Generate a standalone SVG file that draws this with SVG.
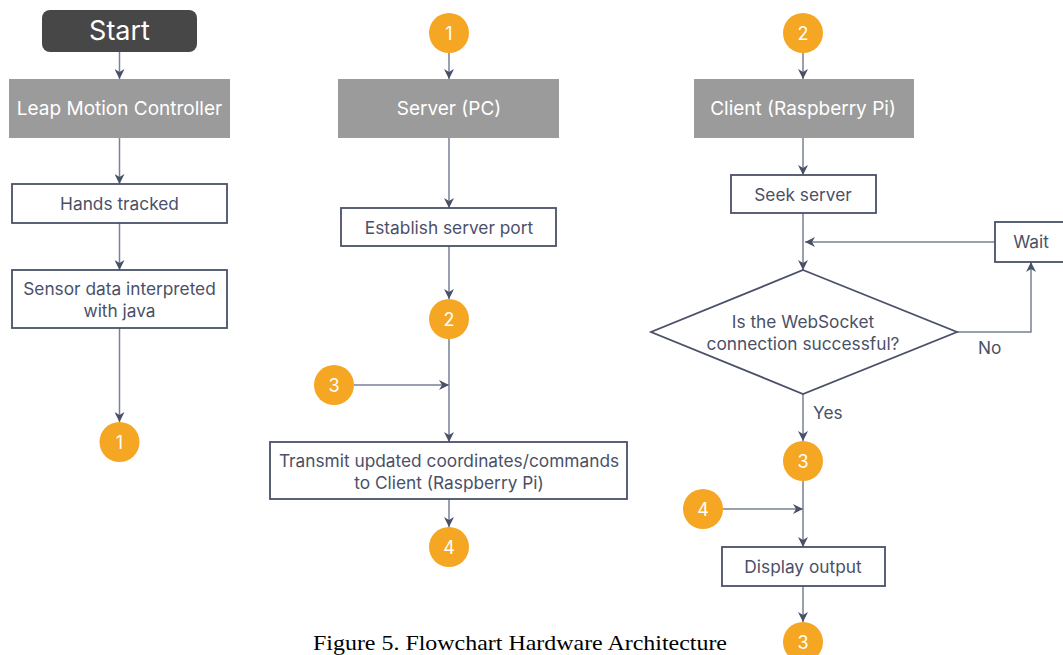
<svg xmlns="http://www.w3.org/2000/svg" width="1063" height="655" viewBox="0 0 1063 655">
<defs>
<marker id="ah" viewBox="0 0 10 10" refX="10" refY="5" markerWidth="10" markerHeight="10" markerUnits="userSpaceOnUse" orient="auto">
<path d="M0,0 L10,5 L0,10 L3,5 Z" fill="#4a5068"/>
</marker>
<style>
.t{font-family:Inter,"Liberation Sans",sans-serif;font-size:17.3px;fill:#4a5068;text-anchor:middle}
.w{font-family:Inter,"Liberation Sans",sans-serif;font-size:19px;fill:#ffffff;text-anchor:middle}
.box{fill:#ffffff;stroke:#4a5068;stroke-width:1.8}
.gray{fill:#9b9b9b}
.c{fill:#f5a623}
.cn{font-family:Inter,"Liberation Sans",sans-serif;font-size:18px;fill:#ffffff;text-anchor:middle}
.la{fill:none;stroke:#7a8096;stroke-width:1.5;marker-end:url(#ah)}
</style>
</defs>
<rect width="1063" height="655" fill="#ffffff"/>

<g id="connectors">
<line class="la" x1="119.5" y1="52" x2="119.5" y2="79"/>
<line class="la" x1="119.5" y1="138" x2="119.5" y2="184"/>
<line class="la" x1="119.5" y1="223" x2="119.5" y2="270"/>
<line class="la" x1="119.5" y1="328" x2="119.5" y2="422"/>

<line class="la" x1="449" y1="53" x2="449" y2="79"/>
<line class="la" x1="449" y1="138" x2="449" y2="208"/>
<line class="la" x1="449" y1="246" x2="449" y2="299"/>
<line class="la" x1="449" y1="339" x2="449" y2="442"/>
<line class="la" x1="354" y1="385" x2="449" y2="385"/>
<line class="la" x1="449" y1="499" x2="449" y2="527"/>

<line class="la" x1="803" y1="53" x2="803" y2="79"/>
<line class="la" x1="803" y1="138" x2="803" y2="175"/>
<line class="la" x1="803" y1="213" x2="803" y2="270"/>
<line class="la" x1="995" y1="242" x2="805" y2="242"/>
<polyline class="la" points="957,332 1031,332 1031,262"/>
<line class="la" x1="803" y1="394" x2="803" y2="441"/>
<line class="la" x1="803" y1="481" x2="803" y2="547"/>
<line class="la" x1="723" y1="509" x2="803" y2="509"/>
<line class="la" x1="803" y1="586" x2="803" y2="622"/>
<text class="t" x="978" y="354" style="text-anchor:start">No</text>
<text class="t" x="813" y="419" style="text-anchor:start">Yes</text>
</g>

<g id="start">
<rect x="42" y="10" width="155" height="42" rx="8" fill="#474747"/>
<text x="119.5" y="40" font-family="Inter,'Liberation Sans',sans-serif" font-size="27" fill="#ffffff" text-anchor="middle">Start</text>
</g>
<g id="leap">
<rect class="gray" x="9" y="79" width="221" height="59"/>
<text class="w" x="119.5" y="115">Leap Motion Controller</text>
</g>
<g id="hands">
<rect class="box" x="12" y="184" width="215" height="39"/>
<text class="t" x="119.5" y="210">Hands tracked</text>
</g>
<g id="sensor">
<rect class="box" x="12" y="270" width="215" height="58"/>
<text class="t" x="119.5" y="295">Sensor data interpreted</text>
<text class="t" x="119.5" y="317">with java</text>
</g>
<g id="c1a">
<circle class="c" cx="119.5" cy="442" r="20"/>
<text class="cn" x="119.5" y="449">1</text>
</g>

<g id="c1b">
<circle class="c" cx="449" cy="33" r="20"/>
<text class="cn" x="449" y="40">1</text>
</g>
<g id="server">
<rect class="gray" x="338" y="79" width="221" height="59"/>
<text class="w" x="449" y="115">Server (PC)</text>
</g>
<g id="establish">
<rect class="box" x="341" y="208" width="215" height="38"/>
<text class="t" x="449" y="234">Establish server port</text>
</g>
<g id="c2a">
<circle class="c" cx="449" cy="319" r="20"/>
<text class="cn" x="449" y="326">2</text>
</g>
<g id="c3a">
<circle class="c" cx="334" cy="385" r="20"/>
<text class="cn" x="334" y="392">3</text>
</g>
<g id="transmit">
<rect class="box" x="270" y="442" width="357" height="57"/>
<text class="t" x="449" y="467">Transmit updated coordinates/commands</text>
<text class="t" x="449" y="489">to Client (Raspberry Pi)</text>
</g>
<g id="c4a">
<circle class="c" cx="449" cy="547" r="20"/>
<text class="cn" x="449" y="554">4</text>
</g>

<g id="c2b">
<circle class="c" cx="803" cy="33" r="20"/>
<text class="cn" x="803" y="40">2</text>
</g>
<g id="client">
<rect class="gray" x="694" y="79" width="220" height="59"/>
<text class="w" x="803" y="115">Client (Raspberry Pi)</text>
</g>
<g id="seek">
<rect class="box" x="731" y="175" width="145" height="38"/>
<text class="t" x="803" y="201">Seek server</text>
</g>
<g id="wait">
<rect class="box" x="995" y="222" width="72" height="40"/>
<text class="t" x="1031" y="248">Wait</text>
</g>
<g id="decision">
<polygon points="803,270 957,332 803,394 651,332" fill="#ffffff" stroke="#4a5068" stroke-width="1.8"/>
<text class="t" x="803" y="328">Is the WebSocket</text>
<text class="t" x="803" y="350">connection successful?</text>
</g>
<g id="c3b">
<circle class="c" cx="803" cy="461" r="20"/>
<text class="cn" x="803" y="468">3</text>
</g>
<g id="c4b">
<circle class="c" cx="703" cy="509" r="20"/>
<text class="cn" x="703" y="516">4</text>
</g>
<g id="display">
<rect class="box" x="722" y="547" width="163" height="39"/>
<text class="t" x="803" y="573">Display output</text>
</g>
<g id="c3c">
<circle class="c" cx="803" cy="642" r="20"/>
<text class="cn" x="803" y="649">3</text>
</g>

<text x="520" y="650" font-family="'Liberation Serif',serif" font-size="21" fill="#000000" text-anchor="middle" textLength="414" lengthAdjust="spacingAndGlyphs">Figure 5. Flowchart Hardware Architecture</text>
</svg>
